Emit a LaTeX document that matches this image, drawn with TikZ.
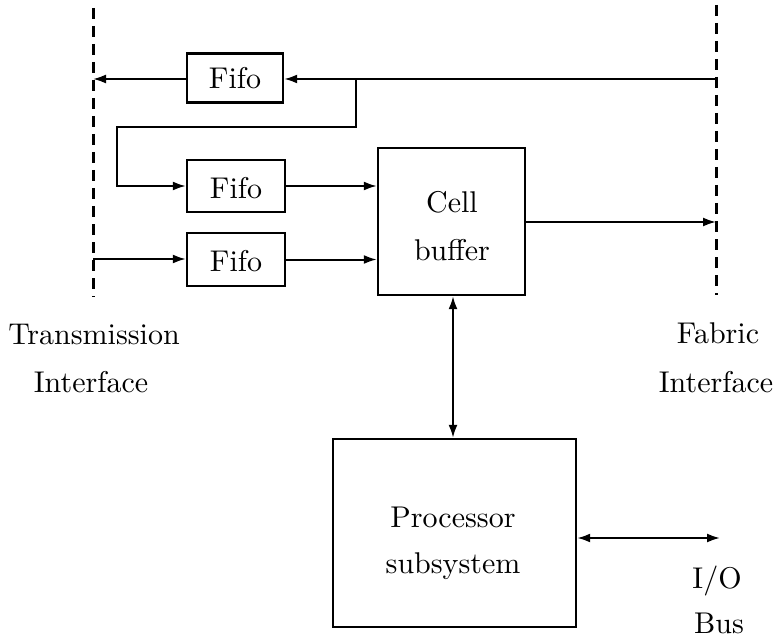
\documentclass[tikz,border=0pt]{standalone}
\usetikzlibrary{arrows.meta}
\begin{document}
\begin{tikzpicture}[x=1pt,y=-1pt, line width=2pt,
  box/.style={draw, line width=2.4pt, inner sep=0pt},
  lbl/.style={font=\fontsize{10}{12}\selectfont, scale=3.0, transform shape, inner sep=0pt, anchor=base},
  arr/.style={-{Latex[length=13pt,width=9pt]}},
  biarr/.style={{Latex[length=13pt,width=9pt]}-{Latex[length=13pt,width=9pt]}},
  dashline/.style={line width=3pt, dash pattern=on 11pt off 7pt}]
\useasboundingbox (0,0) rectangle (776,639);

% interfaces
\coordinate (Ltop) at (93,8);
\coordinate (Lbot) at (93,297);
\coordinate (Rtop) at (716,5);
\coordinate (Rbot) at (716,295);
\draw[dashline] (Ltop) -- (Lbot);
\draw[dashline] (Rtop) -- (Rbot);

% boxes
\node[box, minimum width=96pt, minimum height=49pt] (f1) at (235,78) {};
\node[box, minimum width=98pt, minimum height=52pt] (f2) at (236,186) {};
\node[box, minimum width=98pt, minimum height=53pt] (f3) at (236,259.5) {};
\node[box, minimum width=147pt, minimum height=147pt] (cb) at (451.5,221.5) {};
\node[box, minimum width=243pt, minimum height=188pt] (ps) at (454.5,533) {};

% box texts
\node[lbl] (f1t) at (235,89) {Fifo};
\node[lbl] (f2t) at (236,199) {Fifo};
\node[lbl] (f3t) at (236,271) {Fifo};
\node[lbl] (cbt1) at (452,212) {Cell};
\node[lbl] (cbt2) at (452,260) {buffer};
\node[lbl] (pst1) at (453,527) {Processor};
\node[lbl] (pst2) at (453,573) {subsystem};

% outer labels
\node[lbl] (tl1) at (94,344) {Transmission};
\node[lbl] (tl2) at (91,392) {Interface};
\node[lbl] (fl1) at (718,343) {Fabric};
\node[lbl] (fl2) at (716,392) {Interface};
\node[lbl] (io1) at (717,588) {I/O};
\node[lbl] (io2) at (719,633) {Bus};

% connector points
\coordinate (Rin) at (716,79);
\coordinate (Lout) at (93,79);
\coordinate (br) at (356,79);
\coordinate (c1) at (356,127);
\coordinate (c2) at (117,127);
\coordinate (Lin) at (93,259);
\coordinate (Rout) at (716,222);
\coordinate (io) at (720,538);

% connectors
\draw[arr] (Rin) -- (f1.east |- Rin);
\draw[arr] (f1.west |- Lout) -- (Lout);
\draw[arr] (br) -- (c1) -- (c2) |- (f2.west);
\draw[arr] (Lin) -- (f3.west |- Lin);
\draw[arr] (f2.east) -- (f2.east -| cb.west);
\draw[arr] (f3.east) -- (f3.east -| cb.west);
\draw[arr] (cb.east |- Rout) -- (Rout);
\draw[biarr] ([xshift=1.5pt]cb.south) -- ([xshift=1.5pt]cb.south |- ps.north);
\draw[biarr] (ps.east |- io) -- (io);
\end{tikzpicture}
\end{document}
